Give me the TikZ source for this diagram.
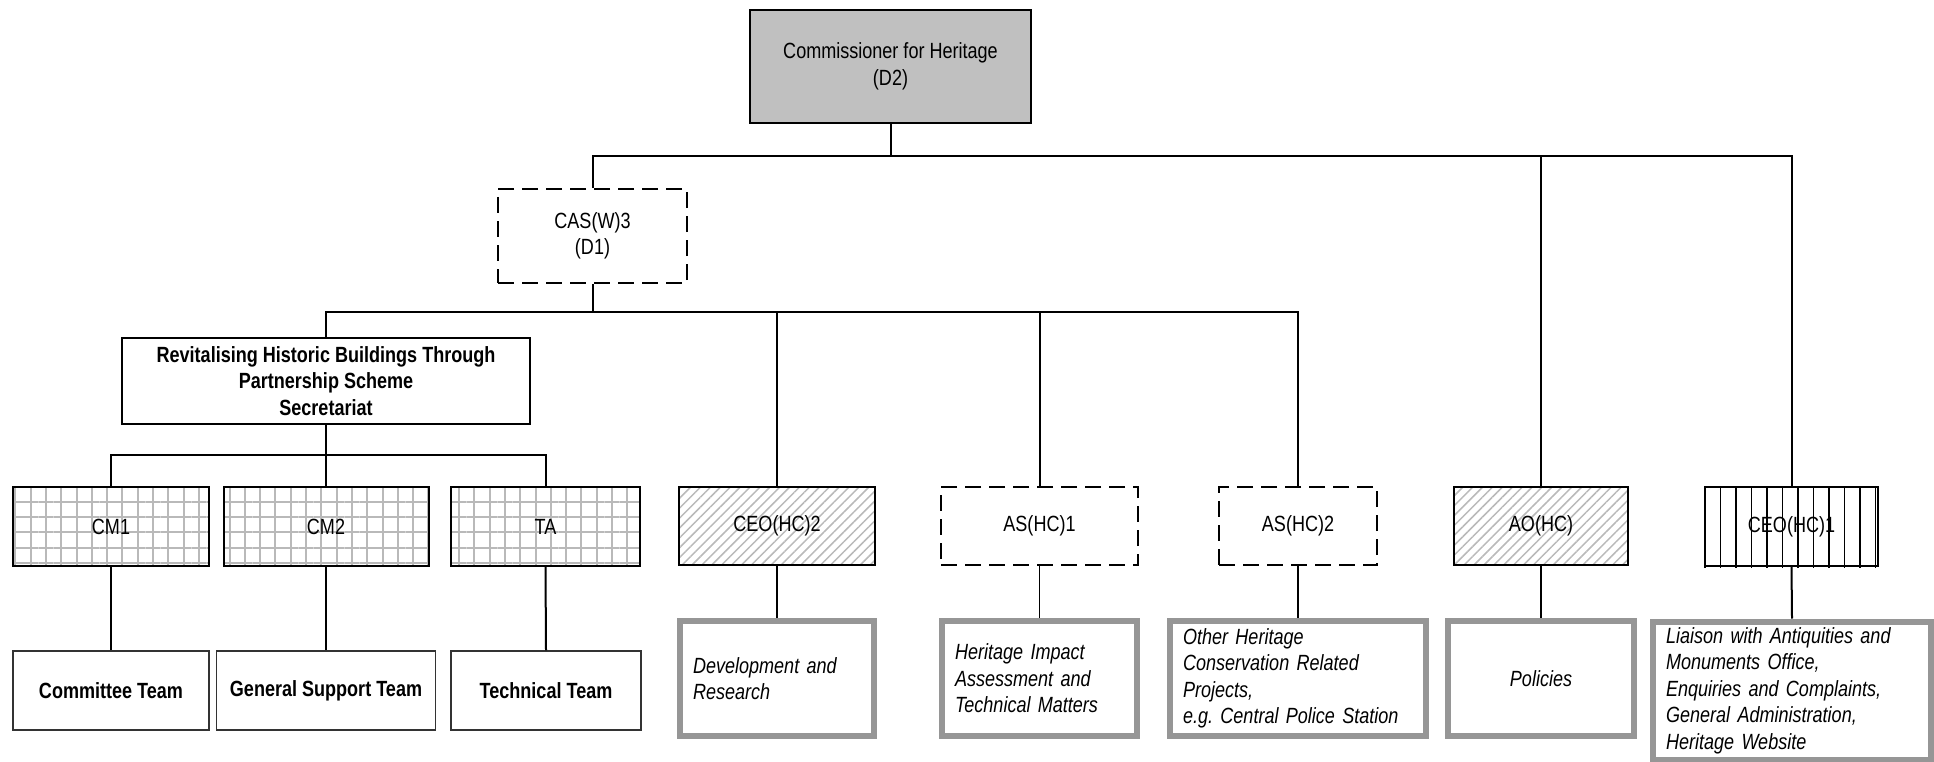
\documentclass[tikz,border=0pt]{standalone}
\usepackage{fontspec}
\setmainfont{Liberation Sans}[FakeStretch=0.82]
\usetikzlibrary{patterns.meta}
\frenchspacing
\definecolor{chgray}{RGB}{192,192,192}
\definecolor{dutygray}{RGB}{150,150,150}
\definecolor{hatchgray}{RGB}{185,185,185}
\newcommand\orgfont{\fontsize{22}{26.5}\selectfont}
\tikzset{
  post/.style={draw, line width=2pt, align=center, inner sep=4pt, font=\orgfont},
  vacant/.style={post, dash pattern=on 16pt off 8pt},
  gridbox/.style={post, pattern={Hatch[angle=0,distance=15.3pt,line width=2pt]}, pattern color=hatchgray},
  hatchbox/.style={post, pattern={Lines[angle=45,distance=7pt,line width=1.5pt]}, pattern color=hatchgray},
  stripes/.style={pattern={Lines[angle=90,distance=15.5pt,line width=1.3pt]}, pattern color=black},
  team/.style={draw=black!80, line width=1.3pt, font=\orgfont\bfseries},
  duty/.style={draw=dutygray, line width=6pt, align=left, inner xsep=13pt, font=\orgfont\itshape},
  conn/.style={line width=2pt},
}
\begin{document}
\begin{tikzpicture}[x=1pt, y=-1pt]
\useasboundingbox (0,0) rectangle (1934,762);
% heads
\node[post, fill=chgray, minimum width=281pt, minimum height=113pt] (P_0_0) at (890.5,66.5) {Commissioner for Heritage\\(D2)};
\node[vacant, minimum width=189pt, minimum height=94pt] (P_1_0) at (592.5,236) {CAS(W)3\\(D1)};
\node[post, minimum width=408pt, minimum height=86pt, font=\orgfont\bfseries] (P_2_0) at (326,381) {Revitalising Historic Buildings Through\\Partnership Scheme\\Secretariat};
% posts
\node[gridbox, minimum width=196pt, minimum height=79pt] (P_3_0) at (111,526.5) {CM1};
\node[gridbox, minimum width=205pt, minimum height=79pt] (P_3_1) at (326,526.5) {CM2};
\node[gridbox, minimum width=189pt, minimum height=79pt] (P_3_2) at (545.5,526.5) {TA};
\node[hatchbox, minimum width=196pt, minimum height=78pt] (P_3_3) at (777,526) {CEO(HC)2};
\node[vacant, minimum width=197pt, minimum height=78pt] (P_3_4) at (1039.5,526) {AS(HC)1};
\node[vacant, minimum width=158pt, minimum height=78pt] (P_3_5) at (1298,526) {AS(HC)2};
\node[hatchbox, minimum width=174pt, minimum height=78pt] (P_3_6) at (1541,526) {AO(HC)};
\node[post, minimum width=173pt, minimum height=79pt] (P_3_7) at (1791.5,526.5) {CEO(HC)1};
\fill[stripes] (P_3_7.south west) rectangle (P_3_7.north east);
% teams and duties
\node[team, minimum width=196pt, minimum height=79pt] (P_4_0) at (111,690.5) {Committee Team};
\node[team, minimum width=219pt, minimum height=79pt] (P_4_1) at (326,690.5) {General Support Team};
\node[team, minimum width=190pt, minimum height=79pt] (P_4_2) at (546,690.5) {Technical Team};
\node[duty, text width=168pt, minimum height=115pt] (P_4_3) at (777,678.5) {Development and\\Research};
\node[duty, text width=169pt, minimum height=115pt] (P_4_4) at (1039.5,678.5) {Heritage Impact\\Assessment and\\Technical Matters};
\node[duty, text width=230pt, minimum height=115pt] (P_4_5) at (1298,678.5) {Other Heritage\\Conservation Related\\Projects,\\e.g. Central Police Station};
\node[duty, text width=160pt, minimum height=115pt, align=center] (P_4_6) at (1541,678.5) {Policies};
\node[duty, text width=252pt, minimum height=138pt] (P_4_7) at (1792,690.5) {Liaison with Antiquities and\\Monuments Office,\\Enquiries and Complaints,\\General Administration,\\Heritage Website};
% top level
\coordinate (B_0) at (890.5,156);
\draw[conn] (P_0_0.south) -- (B_0);
\draw[conn] (P_1_0.north) |- (P_3_7.north |- B_0) -- (P_3_7.north);
\draw[conn] (P_3_6.north) -- (P_3_6.north |- B_0);
% CAS(W)3 level
\coordinate (B_1) at (592.5,312);
\draw[conn] (P_1_0.south) -- (B_1);
\draw[conn] (P_2_0.north) |- (P_3_5.north |- B_1) -- (P_3_5.north);
\draw[conn] (P_3_3.north) -- (P_3_3.north |- B_1);
\draw[conn] (P_3_4.north) -- (P_3_4.north |- B_1);
% secretariat level
\coordinate (B_2) at (326,455);
\draw[conn] (P_2_0.south) -- (B_2);
\draw[conn] (P_3_0.north) |- (P_3_2.north |- B_2) -- (P_3_2.north);
\draw[conn] (P_3_1.north) -- (P_3_1.north |- B_2);
% down to teams and duties
\draw[conn] (P_3_0.south) -- (P_4_0.north);
\draw[conn] (P_3_1.south) -- (P_4_1.north);
\draw[conn] (P_3_2.south) -- (P_4_2.north);
\draw[conn] (P_3_3.south) -- (P_4_3.north);
\draw[line width=1.2pt] (P_3_4.south) -- (P_4_4.north);
\draw[conn] (P_3_5.south) -- (P_4_5.north);
\draw[conn] (P_3_6.south) -- (P_4_6.north);
\draw[conn] (P_3_7.south) -- (P_4_7.north);
\end{tikzpicture}
\end{document}
